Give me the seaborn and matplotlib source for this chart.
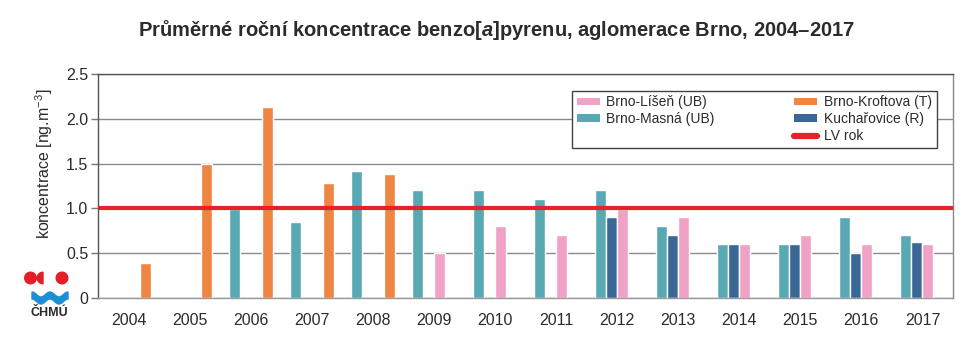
import numpy as np
import pandas as pd
import matplotlib
matplotlib.use("Agg")
import matplotlib.pyplot as plt
import seaborn as sns
from matplotlib.patches import Patch, Circle, Wedge, Polygon
from matplotlib.lines import Line2D
from matplotlib.ticker import FuncFormatter

nan = np.nan
roky = ['2004', '2005', '2006', '2007', '2008', '2009', '2010',
        '2011', '2012', '2013', '2014', '2015', '2016', '2017']
kroftova = [0.39, 1.50, 2.13, 1.28, 1.38, nan, nan, nan, nan, nan, nan, nan, nan, nan]
masna = [nan, nan, 0.99, 0.85, 1.42, 1.21, 1.20, 1.10, 1.20, 0.80, 0.60, 0.60, 0.90, 0.70]
kucharovice = [nan, nan, nan, nan, nan, nan, nan, nan, 0.90, 0.70, 0.60, 0.60, 0.50, 0.62]
lisen = [nan, nan, nan, nan, nan, 0.50, 0.80, 0.70, 0.99, 0.90, 0.60, 0.70, 0.60, 0.60]
limit_lv = 1.0

stanice = ['Brno-Masná (UB)', 'Kuchařovice (R)', 'Brno-Líšeň (UB)', 'Brno-Kroftova (T)']
barvy = {'Brno-Masná (UB)': '#58a9b4', 'Kuchařovice (R)': '#3b6796',
         'Brno-Líšeň (UB)': '#f0a2c6', 'Brno-Kroftova (T)': '#f08443'}
cervena = '#e52229'

df = pd.DataFrame({'rok': roky, 'Brno-Masná (UB)': masna, 'Kuchařovice (R)': kucharovice,
                   'Brno-Líšeň (UB)': lisen, 'Brno-Kroftova (T)': kroftova})
df = df.melt(id_vars='rok', var_name='stanice', value_name='hodnota').dropna()

sns.set_style("white")
plt.rcParams['font.family'] = ['Liberation Sans', 'DejaVu Sans']
plt.rcParams['mathtext.fontset'] = 'custom'
plt.rcParams['mathtext.rm'] = 'Liberation Sans'
plt.rcParams['mathtext.it'] = 'Liberation Sans:italic'
plt.rcParams['mathtext.bf'] = 'Liberation Sans:bold'
plt.rcParams['mathtext.bfit'] = 'Liberation Sans:italic:bold'
txt = '#2b2b2b'

fig = plt.figure(figsize=(9.76, 3.57), dpi=100)
ax = fig.add_axes([98 / 976, 1 - 298 / 357, 855 / 976, 224 / 357])

sns.barplot(data=df, x='rok', y='hodnota', hue='stanice', order=roky, hue_order=stanice,
            palette=barvy, width=0.72, saturation=1, errorbar=None, legend=False, ax=ax)
ax.axhline(limit_lv, color=cervena, lw=3.0, zorder=5, solid_capstyle='round')

ax.set_ylim(0, 2.5)
ax.set_xlim(-0.5, len(roky) - 0.5)
ax.set_yticks([0, 0.5, 1.0, 1.5, 2.0, 2.5])
ax.yaxis.set_major_formatter(FuncFormatter(lambda v, p: '0' if v == 0 else f'{v:.1f}'))
ax.yaxis.grid(True, color='#8a8a8a', lw=1)
ax.set_axisbelow(True)

ax.set_xticks(np.arange(-0.5, len(roky), 1), minor=True)
ax.tick_params(axis='x', which='major', length=0, pad=11, labelsize=11.5, labelcolor=txt)
ax.tick_params(axis='x', which='minor', length=7, width=1, color='#777777', direction='out')
ax.tick_params(axis='y', length=5, width=1, color='#777777', pad=2, labelsize=11.5,
               labelcolor=txt, left=True)

for s in ['left', 'right', 'top', 'bottom']:
    ax.spines[s].set_visible(True)
    ax.spines[s].set_linewidth(1)
ax.spines['top'].set_color('#555555')
ax.spines['left'].set_color('#555555')
ax.spines['right'].set_color('#888888')
ax.spines['bottom'].set_color('#999999')

ax.set_xlabel('')
ax.set_ylabel(r'koncentrace [ng.m$^{-3}$]', fontsize=11.5, color=txt)
ax.yaxis.set_label_coords(-0.05, 0.6)

handles = [Patch(facecolor=barvy['Brno-Líšeň (UB)'], edgecolor='none', label='Brno-Líšeň (UB)'),
           Patch(facecolor=barvy['Brno-Masná (UB)'], edgecolor='none', label='Brno-Masná (UB)'),
           Patch(facecolor='none', edgecolor='none', label=''),
           Patch(facecolor=barvy['Brno-Kroftova (T)'], edgecolor='none', label='Brno-Kroftova (T)'),
           Patch(facecolor=barvy['Kuchařovice (R)'], edgecolor='none', label='Kuchařovice (R)'),
           Line2D([], [], color=cervena, lw=4.5, solid_capstyle='round', label='LV rok')]
leg = ax.legend(handles=handles, ncol=2, loc='upper right', bbox_to_anchor=(0.981, 0.926),
                fontsize=10, frameon=True, fancybox=False, framealpha=1, edgecolor='#444444',
                handlelength=1.65, handleheight=0.5, handletextpad=0.5, labelspacing=0.2,
                columnspacing=5.7, borderpad=0.35, borderaxespad=0)
leg.get_frame().set_linewidth(1)
for t in leg.get_texts():
    t.set_color(txt)

fig.text(0.509, 0.916, r'Průměrné roční koncentrace benzo[$\mathbfit{a}$]pyrenu, aglomerace Brno, 2004–2017',
         ha='center', va='center', fontsize=14.5, fontweight='bold', color=txt)

# CHMU logo, drawn in pixel coordinates
lax = fig.add_axes([0, 0, 97.6 / 976, 1])
lax.set_xlim(0, 97.6)
lax.set_ylim(357, 0)
lax.axis('off')
lax.add_patch(Circle((30.5, 278), 5.8, color='#e31e26'))
lax.add_patch(Wedge((43, 278), 5.8, 90, 270, color='#e31e26'))
lax.add_patch(Circle((62, 278), 5.8, color='#e31e26'))
xv = np.linspace(32, 68, 60)
horni = 292 + 5 * np.sin(np.pi * (xv - 32) / 18) ** 2
dolni = horni + 7
lax.add_patch(Polygon(np.column_stack([np.r_[xv, xv[::-1]], np.r_[horni, dolni[::-1]]]),
                      color='#1c8fd6'))
lax.text(49.5, 313, 'ČHMÚ', ha='center', va='center', fontsize=9, fontweight='bold', color=txt)

fig.savefig('out.png', dpi=100)
